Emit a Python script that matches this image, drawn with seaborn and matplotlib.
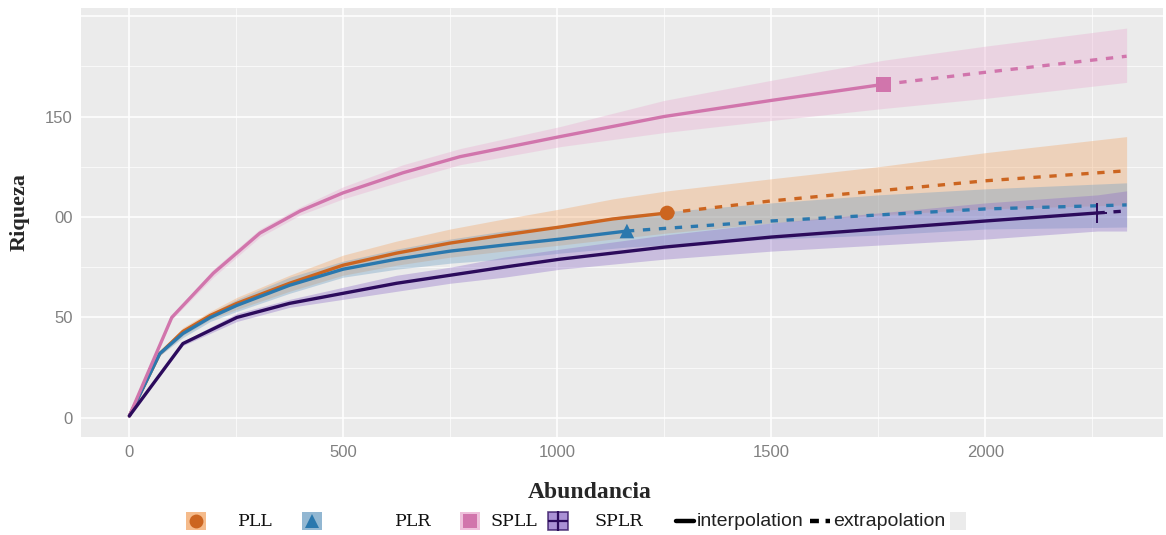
import pandas as pd
import matplotlib.pyplot as plt
import seaborn as sns
from matplotlib.patches import Rectangle
from matplotlib.lines import Line2D

# values (rarefaction / extrapolation curves)
sites = ['PLL', 'PLR', 'SPLL', 'SPLR']

pll_m_int = [1, 72, 126, 190, 252, 375, 500, 625, 750, 875, 1007, 1130, 1257]
pll_q_int = [1, 32, 43, 51, 57, 67, 76, 82, 87, 91, 95, 99, 102]
pll_lo_int = [1, 31, 41, 49, 54, 63, 71, 76, 80, 83, 86, 89, 92]
pll_hi_int = [1, 33, 45, 53, 60, 71, 81, 88, 94, 99, 104, 109, 113]
pll_m_ext = [1257, 1500, 1750, 2000, 2330]
pll_q_ext = [102, 108, 113, 118, 123]
pll_lo_ext = [92, 97, 101, 104, 106]
pll_hi_ext = [113, 119, 125, 132, 140]

plr_m_int = [1, 72, 126, 190, 252, 375, 500, 625, 750, 875, 1007, 1163]
plr_q_int = [1, 32, 42, 50, 56, 66, 74, 79, 83, 86, 89, 93]
plr_lo_int = [1, 31, 40, 48, 53, 62, 70, 74, 77, 79, 82, 85]
plr_hi_int = [1, 33, 44, 52, 59, 70, 78, 84, 89, 93, 96, 101]
plr_m_ext = [1163, 1500, 1750, 2000, 2330]
plr_q_ext = [93, 98, 101, 104, 106]
plr_lo_ext = [85, 89, 91, 94, 95]
plr_hi_ext = [101, 107, 111, 114, 117]

spll_m_int = [1, 100, 197, 306, 400, 500, 640, 773, 1007, 1250, 1500, 1762]
spll_q_int = [1, 50, 72, 92, 103, 112, 122, 130, 140, 150, 158, 166]
spll_lo_int = [1, 49, 70, 90, 101, 109, 118, 126, 135, 142, 148, 154]
spll_hi_int = [1, 51, 74, 94, 105, 115, 126, 134, 145, 158, 168, 178]
spll_m_ext = [1762, 2000, 2330]
spll_q_ext = [166, 172, 180]
spll_lo_ext = [154, 159, 167]
spll_hi_ext = [178, 185, 194]

splr_m_int = [1, 126, 252, 375, 500, 625, 750, 875, 1007, 1250, 1500, 1750, 2000, 2262]
splr_q_int = [1, 37, 50, 57, 62, 67, 71, 75, 79, 85, 90, 94, 98, 102]
splr_lo_int = [1, 36, 48, 55, 59, 63, 67, 70, 74, 79, 83, 86, 89, 93]
splr_hi_int = [1, 38, 52, 59, 65, 71, 75, 80, 84, 91, 97, 102, 107, 111]
splr_m_ext = [2262, 2330]
splr_q_ext = [102, 103]
splr_lo_ext = [93, 93]
splr_hi_ext = [111, 113]

obs_m = [1257, 1163, 1762, 2262]
obs_q = [102, 93, 166, 102]

y_ticks = [0, 50, 100, 150, 200]
y_ticklabels = ['0', '50', '00', '150', '']
x_ticks = [0, 500, 1000, 1500, 2000]

line_colors = {'PLL': '#CC6520', 'PLR': '#2A78AE', 'SPLL': '#D175AC', 'SPLR': '#2C0B5C'}
band_colors = {'PLL': '#F2A565', 'PLR': '#6E9FC4', 'SPLL': '#E9ABD0', 'SPLR': '#8E6DC8'}
markers = {'PLL': 'o', 'PLR': '^', 'SPLL': 's'}

curves = {
    'PLL': (pll_m_int, pll_q_int, pll_lo_int, pll_hi_int, pll_m_ext, pll_q_ext, pll_lo_ext, pll_hi_ext),
    'PLR': (plr_m_int, plr_q_int, plr_lo_int, plr_hi_int, plr_m_ext, plr_q_ext, plr_lo_ext, plr_hi_ext),
    'SPLL': (spll_m_int, spll_q_int, spll_lo_int, spll_hi_int, spll_m_ext, spll_q_ext, spll_lo_ext, spll_hi_ext),
    'SPLR': (splr_m_int, splr_q_int, splr_lo_int, splr_hi_int, splr_m_ext, splr_q_ext, splr_lo_ext, splr_hi_ext),
}

rows = []
for s in sites:
    mi, qi, li, hi, me, qe, le, he = curves[s]
    for m, q, lo, up in zip(mi, qi, li, hi):
        rows.append((s, 'interpolation', m, q, lo, up))
    for m, q, lo, up in zip(me, qe, le, he):
        rows.append((s, 'extrapolation', m, q, lo, up))
df = pd.DataFrame(rows, columns=['site', 'method', 'm', 'qD', 'lower', 'upper'])
obs = pd.DataFrame({'site': sites, 'm': obs_m, 'qD': obs_q})

sns.set_theme(style='darkgrid')
plt.rcParams['font.family'] = ['Liberation Sans', 'DejaVu Sans']

W, H = 1166, 535
fig = plt.figure(figsize=(W / 100, H / 100), dpi=100)
ax = fig.add_axes([81 / W, 1 - 437 / H, (1163 - 81) / W, (437 - 8) / H])
ax.set_facecolor('#EBEBEB')

# confidence bands
for s in sites:
    d = df[df['site'] == s].sort_values('m')
    ax.fill_between(d['m'], d['lower'], d['upper'], color=band_colors[s],
                    alpha=0.36, linewidth=0, zorder=2)

sns.lineplot(data=df, x='m', y='qD', hue='site', style='method',
             palette=line_colors, hue_order=sites,
             dashes={'interpolation': '', 'extrapolation': (2.2, 2.6)},
             estimator=None, sort=False, units='site', linewidth=2.4,
             legend=False, ax=ax, zorder=3)

filled = obs[obs['site'] != 'SPLR']
sns.scatterplot(data=filled, x='m', y='qD', hue='site', style='site',
                palette=line_colors, markers=markers, s=110, linewidth=0,
                legend=False, ax=ax, zorder=4)
cross = obs[obs['site'] == 'SPLR']
sns.scatterplot(data=cross, x='m', y='qD', color=line_colors['SPLR'], marker='+',
                s=220, linewidth=1.4, legend=False, ax=ax, zorder=4)

ax.set_xlim(-112, 2415)
ax.set_ylim(-9.5, 204)
ax.set_xticks(x_ticks)
ax.set_xticks([250, 750, 1250, 1750, 2250], minor=True)
ax.set_yticks(y_ticks)
ax.set_yticklabels(y_ticklabels)
ax.set_yticks([25, 75, 125, 175], minor=True)
ax.grid(which='major', color='white', linewidth=1.1)
ax.grid(which='minor', color='white', linewidth=0.5)
ax.tick_params(axis='both', which='major', length=3, width=0.8, color='#333333',
               labelsize=12, labelcolor='#808080', pad=3)
ax.tick_params(axis='both', which='minor', length=0)
for sp in ax.spines.values():
    sp.set_visible(False)
ax.set_xlabel('')
ax.set_ylabel('')

fig.text(20 / W, 1 - 212 / H, 'Riqueza', rotation=90, ha='center', va='center',
         family=['Liberation Serif'], fontweight='bold', fontsize=16)
fig.text(590 / W, 1 - 492 / H, 'Abundancia', ha='center', va='center',
         family=['Liberation Serif'], fontweight='bold', fontsize=17)

# legend, drawn by hand like the reference
ly = 1 - 521 / H
def fx(px):
    return px / W

legend_items = [('PLL', 196, 238), ('PLR', 312, 395), ('SPLL', 470, 490), ('SPLR', 558, 594)]
for name, xi, xt in legend_items:
    edge = line_colors[name] if name == 'SPLR' else 'none'
    fig.add_artist(Rectangle((fx(xi - 10), ly - 9 / H), 20 / W, 18 / H,
                             transform=fig.transFigure, facecolor=band_colors[name],
                             alpha=0.75, edgecolor=edge, linewidth=1.2))
    mk = markers.get(name, '+')
    fig.add_artist(Line2D([fx(xi)], [ly], transform=fig.transFigure, marker=mk,
                          markersize=10 if mk != '+' else 14,
                          color=line_colors[name], markeredgewidth=1.6 if mk == '+' else 0))
    fig.text(fx(xt), ly, name, ha='left', va='center', family=['DejaVu Serif'],
             fontsize=12.5, color='#111111')

fig.add_artist(Line2D([fx(676), fx(694)], [ly, ly], transform=fig.transFigure,
                      color='black', linewidth=3.2))
fig.text(fx(697), ly, 'interpolation', ha='left', va='center', fontsize=14, color='#222222')
fig.add_artist(Line2D([fx(810), fx(830)], [ly, ly], transform=fig.transFigure,
                      color='black', linewidth=3.2, dashes=(2.0, 1.5)))
fig.text(fx(833), ly, 'extrapolation', ha='left', va='center', fontsize=14, color='#222222')
fig.add_artist(Rectangle((fx(950), ly - 9 / H), 16 / W, 18 / H, transform=fig.transFigure,
                         facecolor='#EBEBEB', edgecolor='none'))

fig.savefig('out.png', dpi=100)
